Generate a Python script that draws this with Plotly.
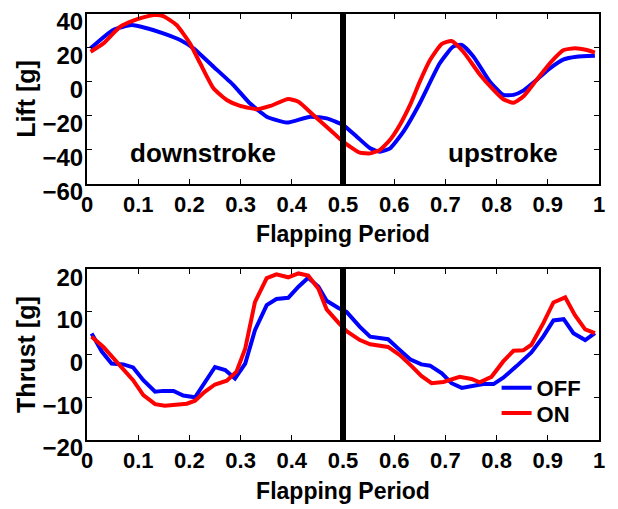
import plotly.graph_objects as go
from plotly.subplots import make_subplots

# ---- data ----
lift_off_x = [0.007, 0.051, 0.087, 0.117, 0.149, 0.182, 0.208, 0.247, 0.286, 0.318, 0.351, 0.39, 0.436, 0.468,
              0.5, 0.527, 0.553, 0.572, 0.592, 0.618, 0.65, 0.689, 0.715, 0.732, 0.755, 0.787, 0.813, 0.833,
              0.852, 0.878, 0.904, 0.931, 0.956, 0.992]
lift_off = [19.8, 30.6, 33.5, 31.6, 28.6, 24.7, 19.8, 9, -1.8, -12.5, -20.4, -23.9, -20.4, -21.4,
            -25.3, -32.2, -39, -41, -39, -29.2, -12.5, 11, 20.8, 21.8, 14.9, 0.2, -7.6, -7.6,
            -5.1, 1.2, 8.0, 13.3, 14.9, 15.5]

lift_on_x = [0.007, 0.032, 0.065, 0.097, 0.13, 0.149, 0.175, 0.201, 0.221, 0.247, 0.273, 0.299, 0.332, 0.358,
             0.393, 0.413, 0.442, 0.475, 0.5, 0.533, 0.553, 0.572, 0.592, 0.611, 0.631, 0.65, 0.67, 0.693,
             0.712, 0.735, 0.768, 0.794, 0.813, 0.833, 0.852, 0.878, 0.907, 0.931, 0.953, 0.976, 0.992]
lift_on = [17.8, 22.7, 32.6, 36.9, 39.4, 38.8, 33.5, 22.7, 11, -3.7, -10.6, -14.1, -16, -14.1,
           -10, -11.6, -19.4, -28.2, -35.1, -41.6, -42, -40, -34, -25.3, -13.5, 0.2, 12.9, 22.4,
           24.1, 17.8, 4.1, -4.7, -10.2, -12.2, -8.6, 1.2, 12, 18.8, 19.8, 18.8, 17.3]

thrust_off_x = [0.009, 0.029, 0.048, 0.071, 0.09, 0.11, 0.133, 0.149, 0.169, 0.188, 0.211, 0.23, 0.25, 0.27,
                0.289, 0.309, 0.328, 0.351, 0.37, 0.393, 0.413, 0.432, 0.452, 0.468, 0.491, 0.507, 0.533,
                0.553, 0.588, 0.608, 0.631, 0.653, 0.67, 0.693, 0.712, 0.732, 0.755, 0.774, 0.794, 0.813,
                0.839, 0.868, 0.891, 0.911, 0.931, 0.95, 0.973, 0.992]
thrust_off = [4.95, 0.7, -2.1, -2.3, -3, -6, -8.7, -8.5, -8.5, -9.6, -10, -6.4, -2.9, -3.6,
              -5.6, -2.1, 5.7, 11.6, 13, 13.3, 15.9, 18, 15.9, 12.6, 10.9, 10, 6.5,
              4.2, 3.6, 1.4, -1.1, -2.3, -2.6, -4.4, -6.7, -7.8, -7.3, -6.9, -6.9, -5.4,
              -2.7, 0.5, 4.2, 8, 8.3, 5, 3.4, 5]

thrust_on_x = [0.009, 0.032, 0.061, 0.09, 0.11, 0.133, 0.152, 0.182, 0.195, 0.211, 0.23, 0.25, 0.273, 0.292,
               0.309, 0.328, 0.351, 0.37, 0.393, 0.413, 0.432, 0.452, 0.468, 0.491, 0.507, 0.533, 0.553,
               0.588, 0.611, 0.634, 0.653, 0.673, 0.696, 0.728, 0.751, 0.767, 0.79, 0.813, 0.833, 0.852,
               0.868, 0.891, 0.911, 0.934, 0.953, 0.973, 0.992]
thrust_on = [4.2, 1.8, -2.1, -6, -9.5, -11.6, -12, -11.6, -11.5, -10.8, -8.7, -7, -6.1, -4,
             1.4, 12.3, 17.9, 18.8, 18.1, 19, 18.5, 15.4, 10.6, 7.5, 5.5, 3.4, 2.4,
             1.8, -0.1, -2.7, -5, -6.7, -6.4, -5.2, -5.7, -6.5, -5.2, -1.6, 0.9, 1.0,
             2.3, 7.3, 12.2, 13.4, 9.2, 5.9, 5]

x_ticks = [0, 0.1, 0.2, 0.3, 0.4, 0.5, 0.6, 0.7, 0.8, 0.9, 1]
x_tick_labels = ["0", "0.1", "0.2", "0.3", "0.4", "0.5", "0.6", "0.7", "0.8", "0.9", "1"]
lift_ticks = [-60, -40, -20, 0, 20, 40]
thrust_ticks = [-20, -10, 0, 10, 20]
divider_x = 0.5
series_names = ["OFF", "ON"]
colors = ["#0000ff", "#ff0000"]

FONT = "Liberation Sans, Arial, sans-serif"

fig = make_subplots(rows=2, cols=1, vertical_spacing=0.2)
fig.update_layout(yaxis=dict(domain=[0.601, 1.0]), yaxis2=dict(domain=[0.0, 0.401]))

fig.add_trace(go.Scatter(x=lift_off_x, y=lift_off, mode="lines", name=series_names[0],
                         line=dict(color=colors[0], width=4, shape="spline", smoothing=0.5),
                         showlegend=False), row=1, col=1)
fig.add_trace(go.Scatter(x=lift_on_x, y=lift_on, mode="lines", name=series_names[1],
                         line=dict(color=colors[1], width=4, shape="spline", smoothing=0.5),
                         showlegend=False), row=1, col=1)
fig.add_trace(go.Scatter(x=thrust_off_x, y=thrust_off, mode="lines", name=series_names[0],
                         line=dict(color=colors[0], width=4), legend="legend"), row=2, col=1)
fig.add_trace(go.Scatter(x=thrust_on_x, y=thrust_on, mode="lines", name=series_names[1],
                         line=dict(color=colors[1], width=4), legend="legend2"), row=2, col=1)

for yref in ["y domain", "y2 domain"]:
    xref = "x" if yref == "y domain" else "x2"
    fig.add_shape(type="line", xref=xref, yref=yref, x0=divider_x, x1=divider_x, y0=-0.012, y1=1.012,
                  line=dict(color="black", width=6))

axis_common = dict(showline=True, linecolor="black", linewidth=2, mirror="ticks", ticks="inside",
                   ticklen=5, tickwidth=1, tickcolor="black", showgrid=False, zeroline=False,
                   automargin=False)

for r in (1, 2):
    fig.update_xaxes(range=[0, 1], tickvals=x_ticks, ticktext=x_tick_labels,
                     tickfont=dict(family=FONT, size=22, color="black", weight="bold"),
                     title=dict(text="Flapping Period", standoff=10,
                                font=dict(family=FONT, size=23, color="black", weight="bold")),
                     row=r, col=1, **axis_common)

for r, rng, tv, ttl in ((1, [-60, 40], lift_ticks, "Lift [g]"), (2, [-20, 20], thrust_ticks, "Thrust [g]")):
    fig.update_yaxes(range=rng, tickvals=tv,
                     tickfont=dict(family=FONT, size=24, color="black", weight="bold"),
                     ticklabelshift=8, ticklabelstandoff=-3, ticklabeloverflow="allow",
                     title=dict(text=ttl, standoff=0,
                                font=dict(family=FONT, size=25, color="black", weight="bold")),
                     row=r, col=1, **axis_common)

fig.add_annotation(x=0.227, y=-42, xref="x", yref="y", text="downstroke", showarrow=False,
                   font=dict(family=FONT, size=26, color="black", weight="bold"))
fig.add_annotation(x=0.812, y=-42, xref="x", yref="y", text="upstroke", showarrow=False,
                   font=dict(family=FONT, size=26, color="black", weight="bold"))

legend_font = dict(family=FONT, size=22, color="black", weight="bold")
fig.update_layout(
    width=610, height=501,
    margin=dict(l=79, r=19, t=6, b=69, autoexpand=False),
    paper_bgcolor="white", plot_bgcolor="white",
    legend=dict(x=0.80, y=0.122, xanchor="left", yanchor="middle", bgcolor="rgba(0,0,0,0)",
                font=legend_font, itemwidth=30),
    legend2=dict(x=0.80, y=0.063, xanchor="left", yanchor="middle", bgcolor="rgba(0,0,0,0)",
                 font=legend_font, itemwidth=30),
)

fig.write_html("out.html")
